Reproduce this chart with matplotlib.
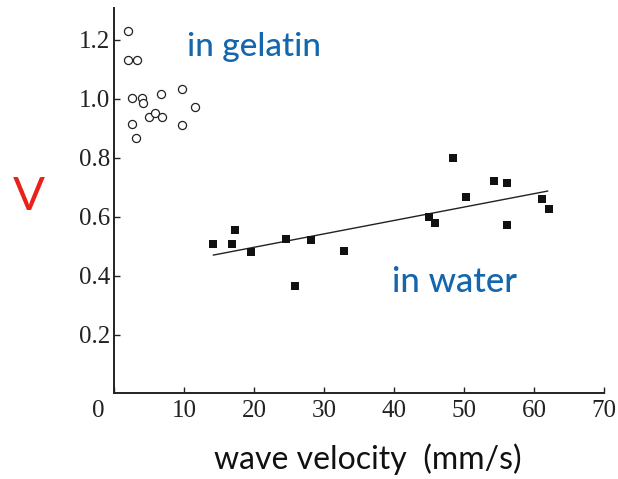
import numpy as np
import matplotlib
matplotlib.use("Agg")
import matplotlib.pyplot as plt
from matplotlib.transforms import ScaledTranslation

# Gelatin measurements (open circles)
gel_velocity = [2.05, 1.95, 3.24, 2.62, 3.95, 4.1, 6.67, 9.76, 11.57,
                2.62, 5.05, 5.86, 6.9, 9.76, 3.1]
gel_v = [1.230, 1.131, 1.131, 1.001, 1.001, 0.986, 1.016, 1.031, 0.972,
         0.914, 0.938, 0.950, 0.936, 0.910, 0.865]

# Water measurements (filled squares)
water_velocity = [14.1, 16.9, 17.3, 19.5, 24.5, 25.8, 28.2, 32.9, 45.0,
                  45.9, 48.5, 50.3, 54.3, 56.2, 56.1, 61.1, 62.1]
water_v = [0.506, 0.508, 0.553, 0.480, 0.525, 0.366, 0.520, 0.484, 0.598,
           0.578, 0.799, 0.667, 0.721, 0.714, 0.572, 0.659, 0.625]

# Linear trend for the water data, drawn between these velocities
fit_range = [14.2, 61.95]

x_ticks = [0, 10, 20, 30, 40, 50, 60, 70]
y_ticks = [0.2, 0.4, 0.6, 0.8, 1.0, 1.2]
y_tick_labels = ["0.2", "0.4", "0.6", "0.8", "1.0", "1.2"]

blue = "#1466ad"
red = "#e8211b"
serif = "Liberation Serif"
sans = "Lato"

fig = plt.figure(figsize=(6.18, 4.79), dpi=100)
ax = fig.add_axes([0.1845, 0.1785, 0.7928, 0.8048])

ax.scatter(gel_velocity, gel_v, s=34, marker="o", facecolors="white",
           edgecolors="#222222", linewidths=0.9, zorder=3)
ax.scatter(water_velocity, water_v, s=40, marker="s", color="#111111",
           linewidths=0, zorder=3)

slope, intercept = np.polyfit(water_velocity, water_v, 1)
fx = np.array(fit_range)
ax.plot(fx, slope * fx + intercept, color="#222222", lw=1.0, zorder=2)

ax.set_xlim(0, 70)
ax.set_ylim(0, 1.307)
for side in ("top", "right"):
    ax.spines[side].set_visible(False)
for side in ("left", "bottom"):
    ax.spines[side].set_linewidth(1.4)
    ax.spines[side].set_color("#222222")

ax.set_xticks(x_ticks)
ax.set_xticklabels([str(t) for t in x_ticks])
ax.set_yticks(y_ticks)
ax.set_yticklabels(y_tick_labels)
ax.tick_params(direction="in", length=4, width=1.0, color="#222222",
               labelsize=18, labelcolor="#222222")
ax.tick_params(axis="x", pad=5)
ax.tick_params(axis="y", pad=3)
for lab in ax.get_xticklabels() + ax.get_yticklabels():
    lab.set_family(serif)
# The origin label sits left of the vertical axis
first = ax.get_xticklabels()[0]
first.set_transform(first.get_transform() +
                    ScaledTranslation(-0.16, 0, fig.dpi_scale_trans))

ax.text(20.0, 1.176, "in gelatin", color=blue, fontsize=24, family=sans,
        weight="medium", ha="center", va="center")
ax.text(48.7, 0.378, "in water", color=blue, fontsize=25, family=sans,
        weight="medium", ha="center", va="center")

fig.text(368 / 618, 1 - 459 / 479, "wave velocity  (mm/s)", fontsize=23,
         family=sans, color="#111111", ha="center", va="center")
fig.text(29 / 618, 1 - 197 / 479, "V", fontsize=34, family=sans, color=red,
         ha="center", va="center")

fig.savefig("out.png", dpi=100)
